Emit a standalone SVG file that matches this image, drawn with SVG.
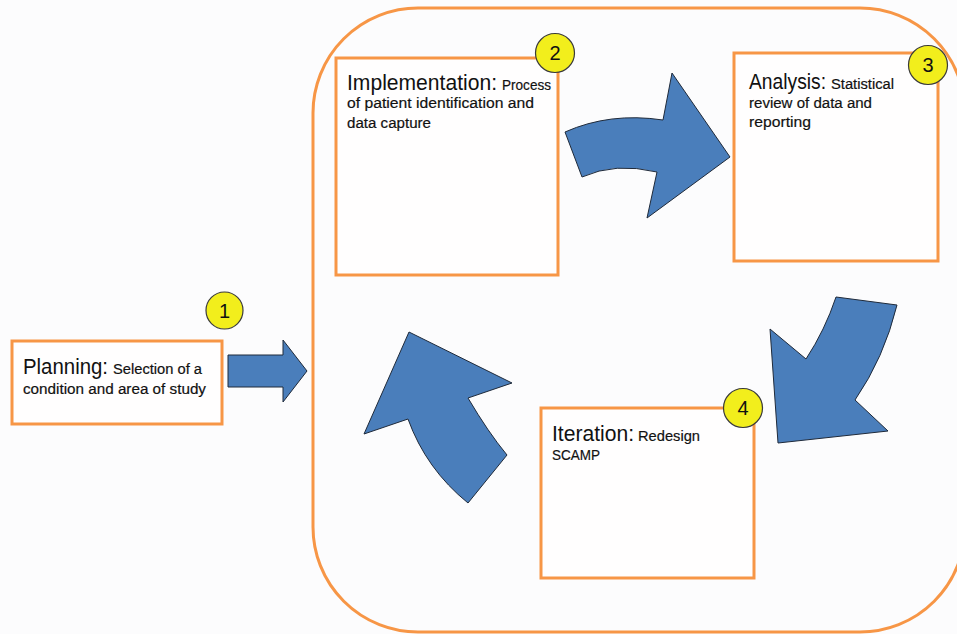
<svg xmlns="http://www.w3.org/2000/svg" width="957" height="634" viewBox="0 0 957 634">
<style>
.box{fill:#fffefe;stroke:#f79646;stroke-width:3}
.num{fill:#f2ee1c;stroke:#3a3a3a;stroke-width:1.2}
.numt{font-family:"Liberation Sans",Arial,sans-serif;font-size:20px;fill:#111;text-anchor:middle}
.arr{fill:#4a7ebb;stroke:#1f2a3a;stroke-width:1}
.h{font-family:"Liberation Sans",Arial,sans-serif;font-size:22px;fill:#111}
.b{font-family:"Liberation Sans",Arial,sans-serif;font-size:15.5px;fill:#111;stroke:#111;stroke-width:0.2}
</style>
<rect x="0" y="0" width="957" height="634" fill="#fcfcfd"/>
<rect id="cycle" x="313" y="8" width="652" height="624" rx="105" ry="105" fill="none" stroke="#f79646" stroke-width="3"/>
<g id="connectors">
<path class="arr" d="M228,355 L283,355 L283,340 L307,371 L283,402 L283,387 L228,387 Z"/>
<path class="arr" d="M565,132 Q610,112 663,120 L672,73 L730,157 L647,218 L657,172 Q615,162 582,177 Z"/>
<path class="arr" d="M836,297 L897,305 Q884,358 855,400 L888,431 L778,443 L770,329 L806,359 Q825,330 836,297 Z"/>
<path class="arr" d="M409,332 L512,383 L468,398 Q488,432 507,455 L468,503 Q426,469 408,419 L364,434 Z"/>
</g>
<g id="planning">
<rect class="box" x="12" y="341" width="210" height="83"/>
<text class="h" x="23" y="374" textLength="85" lengthAdjust="spacingAndGlyphs">Planning:</text>
<text class="b" x="113" y="374" textLength="89" lengthAdjust="spacingAndGlyphs">Selection of a</text>
<text class="b" x="23" y="394" textLength="183" lengthAdjust="spacingAndGlyphs">condition and area of study</text>
</g>
<g id="n1">
<circle class="num" cx="224.5" cy="310.5" r="18.5"/>
<text class="numt" x="224.5" y="317.5">1</text>
</g>
<g id="implementation">
<rect class="box" x="336" y="58" width="222" height="217"/>
<text class="h" x="347" y="90" textLength="150" lengthAdjust="spacingAndGlyphs">Implementation:</text>
<text class="b" x="502" y="90" textLength="49" lengthAdjust="spacingAndGlyphs">Process</text>
<text class="b" x="347" y="108" textLength="187" lengthAdjust="spacingAndGlyphs">of patient identification and</text>
<text class="b" x="347" y="128" textLength="84" lengthAdjust="spacingAndGlyphs">data capture</text>
</g>
<g id="n2">
<circle class="num" cx="555" cy="53" r="19.5"/>
<text class="numt" x="555" y="60">2</text>
</g>
<g id="analysis">
<rect class="box" x="734" y="53" width="204" height="208"/>
<text class="h" x="749" y="89" textLength="77" lengthAdjust="spacingAndGlyphs">Analysis:</text>
<text class="b" x="831" y="89" textLength="63" lengthAdjust="spacingAndGlyphs">Statistical</text>
<text class="b" x="749" y="108" textLength="123" lengthAdjust="spacingAndGlyphs">review of data and</text>
<text class="b" x="749" y="127" textLength="62" lengthAdjust="spacingAndGlyphs">reporting</text>
</g>
<g id="n3">
<circle class="num" cx="928" cy="65" r="19.5"/>
<text class="numt" x="928" y="72">3</text>
</g>
<g id="iteration">
<rect class="box" x="541" y="408" width="213" height="170"/>
<text class="h" x="552" y="441" textLength="82" lengthAdjust="spacingAndGlyphs">Iteration:</text>
<text class="b" x="638" y="441" textLength="62" lengthAdjust="spacingAndGlyphs">Redesign</text>
<text class="b" x="552" y="460" textLength="48" lengthAdjust="spacingAndGlyphs">SCAMP</text>
</g>
<g id="n4">
<circle class="num" cx="743" cy="408" r="19.5"/>
<text class="numt" x="743" y="415">4</text>
</g>
</svg>
